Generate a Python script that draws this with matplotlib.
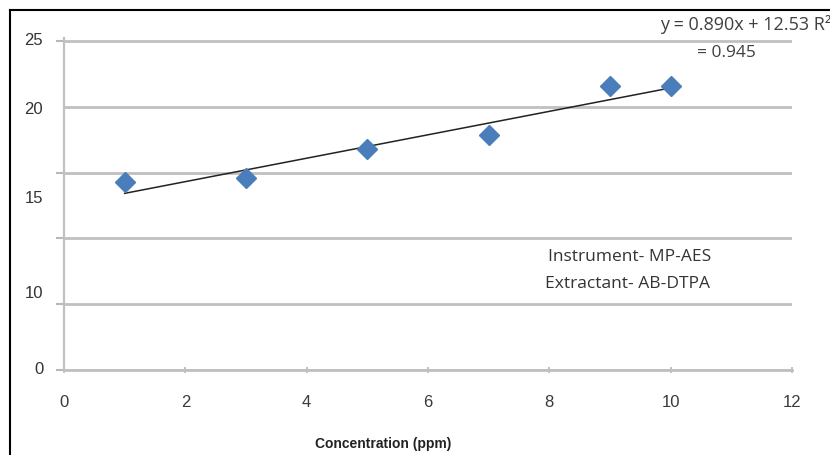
import matplotlib
matplotlib.use("Agg")
import matplotlib.pyplot as plt
from matplotlib.lines import Line2D

# Data
conc = [1, 3, 5, 7, 9, 10]
signal = [14.27, 14.6, 16.78, 17.86, 21.55, 21.55]
slope = 0.890
intercept = 12.53
grid_levels = [0, 5, 10, 15, 20, 25]
# tick labels as they appear (misplaced in the original)
ylabel_pos = [0.2, 6.0, 13.2, 20, 25.2]
ylabel_txt = ["0", "10", "15", "20", "25"]
xticks = [0, 2, 4, 6, 8, 10, 12]

plt.rcParams['font.family'] = ['Liberation Sans', 'DejaVu Sans']

fig = plt.figure(figsize=(8.3, 4.56), dpi=100)
ax = fig.add_axes([64/830, 1-371/456, (792-64)/830, (371-39.3)/456])

ax.set_xlim(0, 12)
ax.set_ylim(0, 25)

# gridlines
for g in grid_levels:
    ax.axhline(g, color='#c0c0c0', lw=2.0, zorder=1)

# y ticks: minor ticks at grid, major at label positions
ax.set_yticks(grid_levels, minor=True)
ax.set_yticks(ylabel_pos)
ax.set_yticklabels(ylabel_txt)
ax.tick_params(axis='y', which='major', length=0, pad=15, labelsize=12, labelcolor='#333333')
ax.tick_params(axis='y', which='minor', length=6, width=1.5, color='#b8b8b8', direction='out')

ax.set_xticks(xticks)
ax.tick_params(axis='x', which='major', length=5, width=1.2, color='#b8b8b8', direction='inout',
               labelsize=12, labelcolor='#3a3a3a', pad=15)

for s in ['top', 'right']:
    ax.spines[s].set_visible(False)
ax.spines['left'].set_color('#c0c0c0')
ax.spines['left'].set_linewidth(1.6)
ax.spines['bottom'].set_color('#c0c0c0')
ax.spines['bottom'].set_linewidth(2.0)

# trendline
tx = [conc[0], conc[-1]]
ty = [slope * v + intercept for v in tx]
ax.plot(tx, ty, color='#222222', lw=1.1, zorder=3)

# points
ax.plot(conc, signal, linestyle='none', marker='D', markersize=10,
        color='#4a7ebb', markeredgecolor='#4a7ebb', zorder=4)

ax.set_xlabel("Concentration (ppm)", fontsize=10, fontweight='bold', color='#222222')
ax.xaxis.set_label_coords((383-64)/(792-64), -0.2)

# annotations
fig.text(660/830, 1-25/456, "y = 0.890x + 12.53 R²", fontsize=13, color='#404040',
         ha='left', va='center', family='Open Sans')
fig.text(726/830, 1-53/456, "= 0.945", fontsize=12.5, color='#404040',
         ha='center', va='center', family='Open Sans')
fig.text(630/830, 1-257/456, "Instrument- MP-AES", fontsize=12.5, color='#333333',
         ha='center', va='center', family='Open Sans')
fig.text(627/830, 1-284/456, "Extractant- AB-DTPA", fontsize=12.5, color='#333333',
         ha='center', va='center', family='Open Sans')

# outer frame (left and top visible)
fig.add_artist(Line2D([10/830, 10/830], [0, 1-11/456], color='black', lw=1.5, transform=fig.transFigure))
fig.add_artist(Line2D([10/830, 1], [1-11/456, 1-11/456], color='black', lw=1.5, transform=fig.transFigure))

fig.savefig("out.png", dpi=100)
